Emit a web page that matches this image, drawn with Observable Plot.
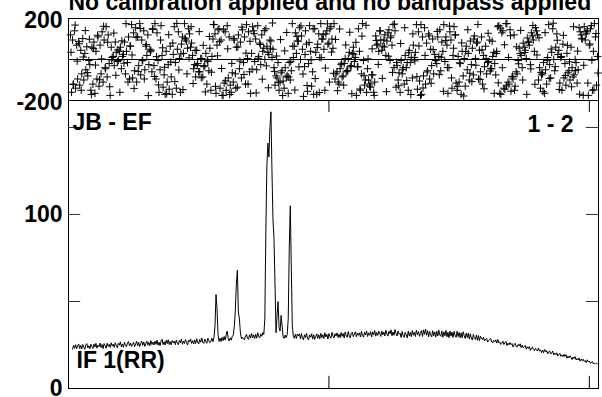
<!DOCTYPE html>
<html><head><meta charset="utf-8">
<script src="https://cdn.jsdelivr.net/npm/d3@7"></script>
<script src="https://cdn.jsdelivr.net/npm/@observablehq/plot@0.6"></script>
<style>
html,body{margin:0;padding:0;background:#fff;}
#chart{position:relative;width:602px;height:397px;overflow:hidden;font-family:"Liberation Sans",Arial,sans-serif;}
#chart svg{position:absolute;left:0;top:0;overflow:visible;}
</style></head><body><div id="chart"></div>
<script>
const titleText = "No calibration applied and no bandpass applied";
const baselineLabel = "JB - EF";
const pairLabel = "1 - 2";
const ifLabel = "IF 1(RR)";
const phaseTicks = [-200, 200];
const ampTickLabels = [0, 100];
const ampMinorTicks = [50, 100, 150];
const channelTicks = [256, 512];

// amplitude, one value per channel starting at channel 4
const firstAmpChannel = 4;
const ampValues = [
22.6,24.9,23.1,25.2,22.9,24.4,25.6,23.0,24.8,22.7,25.3,23.9,22.5,25.0,25.8,23.3,24.6,22.8,25.4,24.0,
23.0,25.5,23.8,26.0,23.2,24.9,24.0,26.1,23.5,25.3,22.9,25.8,24.6,23.1,26.0,24.2,25.4,23.6,26.3,24.4,
25.5,23.6,26.3,24.8,23.4,26.0,24.9,26.8,23.9,25.6,23.7,26.5,25.1,24.0,26.2,27.0,24.5,26.1,24.2,25.4,
26.6,24.0,25.5,27.1,24.6,26.4,24.1,25.9,27.3,24.8,26.7,24.2,26.0,27.2,24.9,26.5,24.5,27.5,25.3,26.6,
25.0,27.2,25.4,27.8,24.9,26.6,24.6,27.4,28.3,25.2,26.9,25.0,27.7,25.8,28.0,25.3,27.0,25.1,27.6,26.2,
27.3,25.2,27.9,26.0,25.1,27.6,26.3,28.4,25.4,27.2,25.8,28.1,26.5,25.0,27.8,26.7,28.5,25.9,27.5,25.6,
27.9,25.8,28.6,26.7,25.6,28.2,26.6,29.1,26.5,25.9,28.4,27.0,26.0,28.9,27.4,26.3,
27.2,28.9,26.9,29.2,36,54,46,31,27.1,28.9,27.0,29.4,27.5,29.9,27.8,30.7,33,28.6,27.3,29.1,
27.8,29.9,30.8,36,45,60,68,44,40,32,28.6,29.5,28.3,28.0,30.2,31.1,28.8,28.2,30.9,29.0,
31.6,29.2,30.8,28.7,31.1,28.9,32.0,29.7,29.1,31.4,30.0,32.2,31,40,90,128,141,133,150,159,
125,97,86,60,32,42,50,35,33,42,36,29.6,28.8,30.7,29.2,31,40,80,105,70,
36,30.1,28.9,31.2,28.8,31.3,
30.2,31.4,28.5,31.6,29.0,28.0,30.9,29.3,31.8,28.7,27.9,30.8,29.5,31.5,28.4,30.9,28.2,29.9,31.4,28.8,
30.9,28.5,31.7,29.2,30.9,28.7,32.0,29.6,31.1,28.4,31.6,29.8,28.9,32.3,30.2,29.0,31.5,30.1,32.0,29.3,
31.3,29.2,32.2,30.0,31.6,29.0,32.5,30.4,29.4,32.7,30.3,29.1,31.8,32.4,29.8,31.4,32.6,29.7,31.9,30.6,
32.0,29.6,32.8,30.4,29.5,32.3,30.8,33.1,29.9,32.0,30.6,32.7,29.6,32.5,30.9,33.3,30.1,32.2,30.5,32.9,
31.8,29.9,33.0,30.8,32.4,30.2,33.5,31.3,30.1,32.9,31.4,33.7,30.3,32.5,30.6,33.9,31.5,30.2,33.1,31.2,
31.8,29.3,32.8,30.4,29.4,32.3,30.8,29.1,33.0,30.2,32.2,29.8,33.3,30.6,32.4,29.9,33.6,30.9,32.7,30.0,
31.8,33.3,29.9,33.7,31.1,34.1,30.6,33.2,29.7,32.8,30.9,29.6,33.2,30.3,32.5,29.5,32.9,30.2,33.6,30.7,
30.0,33.1,29.4,32.5,30.3,33.4,29.7,32.3,29.2,33.0,30.1,32.4,29.3,32.8,30.6,29.4,32.9,29.8,32.2,29.1,
32.0,29.2,32.6,30.2,28.8,31.9,29.3,31.8,28.4,31.4,29.0,27.8,31.1,28.7,28.1,30.8,27.7,30.4,27.5,30.0,
29.1,28.0,29.4,27.3,28.3,28.8,26.7,27.5,28.2,28.8,26.7,26.3,27.6,26.9,27.9,26.1,28.2,26.2,26.7,25.3,
26.0,27.2,25.3,26.4,27.1,24.7,26.0,25.1,26.4,25.2,25.8,23.8,25.1,26.0,24.2,23.8,25.3,24.4,25.7,23.5,
24.9,23.4,24.0,24.8,22.6,24.0,23.0,24.1,21.9,23.3,23.8,22.3,21.7,23.1,22.4,21.5,23.3,21.5,22.2,20.6,
22.1,20.6,22.4,21.0,21.8,19.8,21.1,21.6,19.9,20.3,21.5,19.3,20.4,19.4,20.5,18.6,19.6,20.3,18.5,19.3,
18.3,19.6,18.4,19.5,17.4,18.6,17.6,18.8,17.9,16.6,18.1,17.1,18.3,16.4,17.2,16.4,17.5,15.7,16.9,16.0,
16.8,15.5,16.1,14.9,16.5,15.2,15.8,14.4,15.2,15.5,14.1,14.7,14.1,14.6,14.0
];

// phase, first set (even channels from 2)
const firstPhaseAChannel = 2;
const phaseA = [
120,95,140,70,88,45,102,30,62,-5,-150,-120,-165,-95,-130,-70,-110,-40,-85,-20,
60,15,85,-10,40,-45,25,-70,-15,-95,170,130,155,110,175,95,140,65,120,50,
-60,-30,-95,-5,-50,20,-75,40,-25,65,-170,160,-140,135,-160,110,175,90,150,60,
20,-25,45,-60,5,-85,-30,-120,-55,-150,100,125,70,150,95,-175,135,165,110,-160,
-110,-70,-135,-45,-90,-15,-120,5,-60,30,140,100,165,80,120,55,150,35,95,10,
-40,-80,-15,-110,-55,-140,-85,-165,-100,175,65,30,90,0,50,-35,75,-20,40,-60,
150,-170,125,175,100,-150,140,80,160,55,-95,-60,-120,-25,-80,5,-55,35,-30,60,
10,-35,40,-70,-5,-100,-45,-130,-75,-160,115,75,140,45,95,20,130,-5,70,-40,
-135,-100,-160,-70,-120,-40,-150,-15,-90,10,170,135,-175,110,155,80,125,50,100,25,
-20,15,-55,40,-10,70,-40,95,20,120,-150,-110,-170,-80,-130,-50,-100,-25,-75,5,
85,45,110,20,65,-15,95,-45,35,-75,160,-165,130,-140,175,-110,145,-85,120,-60,
-5,30,-40,60,5,85,-25,115,40,140,-100,-140,-70,-165,-120,170,-90,150,-55,125,
45,10,75,-20,30,-55,60,-85,0,-115,155,120,-175,95,140,70,165,40,110,15
];

// phase, second set (odd channels from 3)
const firstPhaseBChannel = 3;
const phaseB = [
-160,-120,-140,-95,-125,-70,-100,-50,-80,-25,60,85,40,110,70,135,95,160,120,-175,
10,-30,35,-5,60,15,85,40,110,65,-90,-55,-110,-30,-75,-5,-50,20,-25,45,
150,175,130,-160,165,-135,-170,-110,-145,-85,25,-15,50,5,75,30,100,55,125,80,
-45,-85,-20,-60,5,-35,30,-10,55,15,170,-165,145,-140,-175,-115,-150,-90,-125,-65,
95,60,120,85,145,110,170,135,-165,160,-10,-50,15,-25,40,0,65,25,90,50,
-125,-90,-150,-65,-105,-40,-80,-15,-55,10,130,90,155,115,-180,140,-155,165,-130,-170,
35,75,10,100,50,125,75,150,100,175,-70,-110,-45,-85,-20,-60,5,-35,30,-10,
-175,150,-150,175,-125,-160,-100,-135,-75,-110,70,40,95,65,120,90,145,115,170,140,
-30,-65,-5,-40,20,-15,45,10,70,35,-145,-105,-170,-80,-120,-55,-95,-30,-70,-5,
110,145,85,170,110,-165,135,-140,160,-115,15,-20,40,5,65,30,90,55,115,80,
-95,-60,-120,-35,-70,-10,-45,15,-20,40,165,-170,140,-145,175,-120,-155,-95,-130,-70,
55,20,80,45,105,70,130,95,155,120,-40,-75,-15,-50,10,-25,35,0,60,25,
-115,-150,-90,-125,-65,-100,-40,-75,-15,-50,135,100,160,125,-175,150,-150,175,-125
];

// phase, third set (between channels, from 2.5)
const firstPhaseCChannel = 2.5;
const phaseC = [
35,-122,168,-8,77,-150,12,141,-64,99,-171,53,-27,118,-99,3,162,-45,84,-133,
-2,129,-77,47,-160,91,-18,175,-110,66,22,-141,108,-58,151,-6,-95,73,-176,38,
147,-83,14,-124,95,57,-38,-166,121,-12,80,-108,176,-51,27,-147,104,-70,8,160,
-117,44,-29,136,-89,69,-158,-3,112,-62,171,-131,18,87,-44,145,-104,52,-171,-19,
102,-140,61,-8,158,-73,31,-120,89,-47,126,-163,6,73,-96,141,-31,-138,55,178,
-58,17,-113,97,-176,42,132,-85,-11,65,-149,113,-36,164,-71,24,-127,83,-2,150,
-93,58,-161,9,121,-42,174,-110,36,-67,98,-152,149,-18,-125,71,-55,133,-167,26,
84,-36,-144,114,-79,167,3,-119,52,-175,93,-24,139,-92,61,-157,16,106,-63,173,
-14,-128,78,-50,155,-102,33,-171,125,-7,-84,66,170,-139,20,-61,115,-116,48,-1,
137,-74,11,-155,92,-39,163,-90,55,120,-131,-16,81,-178,39,145,-67,-108,100,-28,
171,-98,47,-143,5,128,-56,89,-165,29,-114,153,-40,72,-129,10,116,-82,-150,62,
-21,142,-100,34,-170,85,-46,166,-121,22,106,-63,-157,131,-5,-93,51,177,-35,94,
-146,15,118,-78,69,-12,-133,160,-54,41,-169,103,-28,135,-115,76,-4,-148,127,-66
];

const ampData = ampValues.map((v, i) => ({ch: firstAmpChannel + i, amp: v}));
const phaseData = [
  ...phaseA.map((v, i) => ({ch: firstPhaseAChannel + 2 * i, ph: v})),
  ...phaseB.map((v, i) => ({ch: firstPhaseBChannel + 2 * i, ph: v})),
  ...phaseC.map((v, i) => ({ch: firstPhaseCChannel + 2 * i, ph: v}))
];

const W = 602, H = 397;
const xDomain = [0, 521];
const FONT = "'Liberation Sans', Arial, Helvetica, sans-serif";
const plusSymbol = {
  draw(ctx, size) {
    const r = Math.sqrt(size / Math.PI);
    ctx.moveTo(-r, 0); ctx.lineTo(r, 0);
    ctx.moveTo(0, -r); ctx.lineTo(0, r);
  }
};
const txt = {fontSize: 23, fontWeight: "bold", fill: "#000"};

const phasePlot = Plot.plot({
  width: W, height: H,
  marginTop: 18, marginBottom: 297, marginLeft: 68, marginRight: 4,
  style: {background: "transparent", fontFamily: FONT, overflow: "visible"},
  x: {domain: xDomain, axis: null},
  y: {domain: [-200, 200], axis: null},
  marks: [
    Plot.dot(phaseData, {x: "ch", y: "ph", symbol: plusSymbol, r: 3.8, fill: "none", stroke: "#000", strokeWidth: 1}),
    Plot.ruleY([0], {stroke: "#000", strokeWidth: 1}),
    Plot.frame({stroke: "#000", strokeWidth: 1}),
    Plot.axisY(phaseTicks, {anchor: "left", label: null, tickSize: 0, tickPadding: 6, dy: 2, tickFormat: d => String(d), ...txt}),
    Plot.text([titleText], {frameAnchor: "top-left", dx: 0, dy: -9, lineAnchor: "bottom", textAnchor: "start", ...txt})
  ]
});

const ampPlot = Plot.plot({
  width: W, height: H,
  marginTop: 100, marginBottom: 9, marginLeft: 68, marginRight: 4,
  style: {background: "transparent", fontFamily: FONT, overflow: "visible"},
  x: {domain: xDomain, axis: null},
  y: {domain: [0, 165.5], axis: null},
  marks: [
    Plot.frame({stroke: "#000", strokeWidth: 1}),
    Plot.line(ampData, {x: "ch", y: "amp", stroke: "#000", strokeWidth: 1}),
    Plot.ruleY(ampMinorTicks, {x1: 0, x2: 12, stroke: "#333"}),
    Plot.ruleY(ampMinorTicks, {x1: 509, x2: 521, stroke: "#333"}),
    Plot.ruleX(channelTicks, {y1: 0, y2: 7, stroke: "#000"}),
    Plot.ruleX(channelTicks, {y1: 158.6, y2: 165.5, stroke: "#000"}),
    Plot.axisY(ampTickLabels, {anchor: "left", label: null, tickSize: 0, tickPadding: 6, tickFormat: d => String(d), ...txt}),
    Plot.text([baselineLabel], {frameAnchor: "top-left", dx: 4, dy: 29, lineAnchor: "bottom", textAnchor: "start", ...txt}),
    Plot.text([pairLabel], {frameAnchor: "top-right", dx: -25, dy: 31, lineAnchor: "bottom", textAnchor: "end", ...txt}),
    Plot.text([ifLabel], {frameAnchor: "bottom-left", dx: 8, dy: -21, lineAnchor: "bottom", textAnchor: "start", ...txt})
  ]
});

const chart = document.getElementById("chart");
chart.appendChild(ampPlot);
chart.appendChild(phasePlot);
</script>
</body></html>
